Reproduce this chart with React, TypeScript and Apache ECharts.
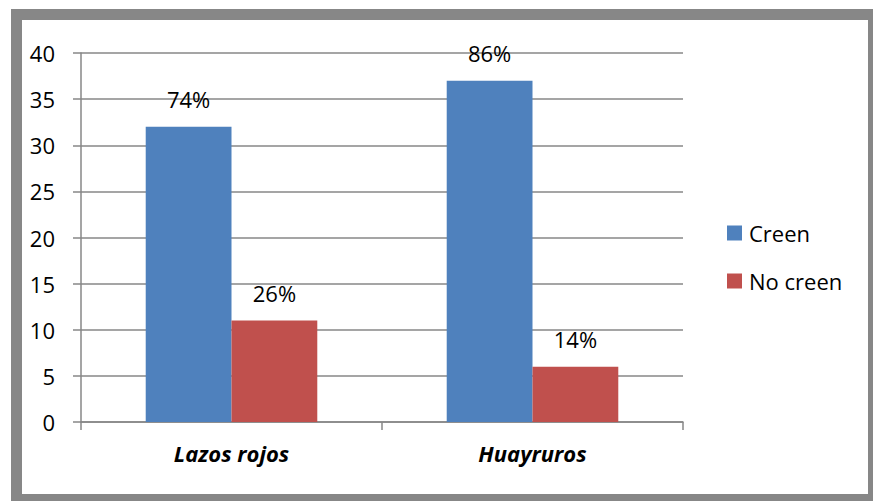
import React, { useEffect, useRef } from "react";
import * as echarts from "echarts";

const categories = ["Lazos rojos", "Huayruros"];
const seriesNames = ["Creen", "No creen"];
const creenValues = [32, 37];
const noCreenValues = [11, 6];
const creenPercents = ["74%", "86%"];
const noCreenPercents = ["26%", "14%"];
const yMin = 0;
const yMax = 40;
const yInterval = 5;

const FONT = "'Open Sans', 'Noto Sans', sans-serif";
const GRAY = "#878787";

export default function App() {
  const ref = useRef<HTMLDivElement>(null);
  useEffect(() => {
    if (!ref.current) return;
    const chart = echarts.init(ref.current, null, { renderer: "svg" });
    chart.setOption({
      animation: false,
      backgroundColor: "#ffffff",
      textStyle: { fontFamily: FONT },
      graphic: [
        {
          type: "rect",
          z: -10,
          silent: true,
          shape: { x: 11, y: 9, width: 880, height: 510 },
          style: { fill: GRAY },
        },
        {
          type: "rect",
          z: -9,
          silent: true,
          shape: { x: 22, y: 20, width: 846, height: 474 },
          style: { fill: "#ffffff" },
        },
      ],
      legend: {
        orient: "vertical",
        left: 727,
        top: 222,
        padding: 0,
        itemWidth: 15,
        itemHeight: 15,
        itemGap: 26,
        icon: "rect",
        data: seriesNames,
        textStyle: { fontFamily: FONT, fontSize: 22, color: "#000000", padding: [0, 0, 0, 2] },
      },
      grid: {
        left: 81,
        right: 190,
        top: 53,
        bottom: 79,
        outerBoundsMode: "none",
        containLabel: false,
      },
      xAxis: {
        type: "category",
        data: categories,
        boundaryGap: true,
        axisLine: { show: true, lineStyle: { color: GRAY, width: 1.5 } },
        axisTick: { show: true, length: 8, alignWithLabel: false, lineStyle: { color: GRAY, width: 1.5 } },
        axisLabel: {
          margin: 20,
          fontFamily: FONT,
          fontSize: 22,
          fontWeight: "bold",
          fontStyle: "italic",
          color: "#000000",
        },
      },
      yAxis: {
        type: "value",
        min: yMin,
        max: yMax,
        interval: yInterval,
        axisLine: { show: true, lineStyle: { color: GRAY, width: 1.5 } },
        axisTick: { show: true, length: 8, lineStyle: { color: GRAY, width: 1.5 } },
        splitLine: { show: true, lineStyle: { color: GRAY, width: 1.5 } },
        axisLabel: {
          margin: 26,
          fontFamily: FONT,
          fontSize: 22,
          color: "#000000",
        },
      },
      series: [
        {
          name: seriesNames[0],
          type: "bar",
          data: creenValues,
          barGap: "0%",
          barCategoryGap: "43%",
          itemStyle: { color: "#4F81BD" },
          label: {
            show: true,
            position: "top",
            distance: 17,
            fontFamily: FONT,
            fontSize: 22,
            color: "#000000",
            formatter: (p: any) => creenPercents[p.dataIndex],
          },
        },
        {
          name: seriesNames[1],
          type: "bar",
          data: noCreenValues,
          barGap: "0%",
          barCategoryGap: "43%",
          itemStyle: { color: "#C0504D" },
          label: {
            show: true,
            position: "top",
            distance: 17,
            fontFamily: FONT,
            fontSize: 22,
            color: "#000000",
            formatter: (p: any) => noCreenPercents[p.dataIndex],
          },
        },
      ],
    });
    return () => chart.dispose();
  }, []);
  return (
    <div
      ref={ref}
      style={{ position: "absolute", left: 0, top: 0, width: 873, height: 501 }}
    />
  );
}
